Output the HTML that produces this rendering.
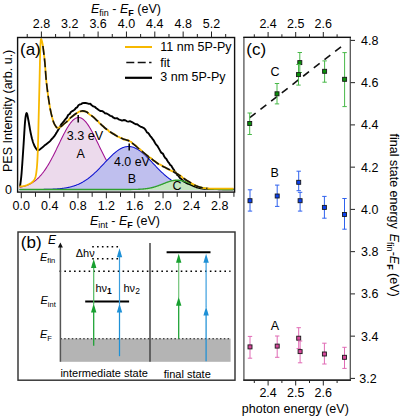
<!DOCTYPE html>
<html><head><meta charset="utf-8"><style>
html,body{margin:0;padding:0;background:#fff;width:401px;height:418px;overflow:hidden;}
svg{display:block;font-family:"Liberation Sans", sans-serif;}
</style></head><body>
<svg width="401" height="418" viewBox="0 0 401 418" font-family='"Liberation Sans", sans-serif' fill="#000"><defs><clipPath id="ca"><rect x="18" y="38" width="216" height="153.5"/></clipPath></defs>
<g clip-path="url(#ca)">
<path d="M19.50,187.34 L20.00,187.25 L20.50,187.15 L21.00,187.05 L21.50,186.94 L22.00,186.83 L22.50,186.71 L23.00,186.58 L23.50,186.45 L24.00,186.31 L24.50,186.17 L25.00,186.01 L25.50,185.85 L26.00,185.68 L26.50,185.50 L27.00,185.32 L27.50,185.12 L28.00,184.91 L28.50,184.70 L29.00,184.47 L29.50,184.23 L30.00,183.99 L30.50,183.73 L31.00,183.46 L31.50,183.18 L32.00,182.88 L32.50,182.57 L33.00,182.25 L33.50,181.92 L34.00,181.57 L34.50,181.21 L35.00,180.83 L35.50,180.44 L36.00,180.04 L36.50,179.61 L37.00,179.18 L37.50,178.72 L38.00,178.25 L38.50,177.77 L39.00,177.27 L39.50,176.75 L40.00,176.21 L40.50,175.65 L41.00,175.08 L41.50,174.49 L42.00,173.88 L42.50,173.26 L43.00,172.61 L43.50,171.95 L44.00,171.27 L44.50,170.58 L45.00,169.86 L45.50,169.13 L46.00,168.37 L46.50,167.61 L47.00,166.82 L47.50,166.02 L48.00,165.19 L48.50,164.36 L49.00,163.50 L49.50,162.64 L50.00,161.75 L50.50,160.85 L51.00,159.94 L51.50,159.01 L52.00,158.07 L52.50,157.12 L53.00,156.15 L53.50,155.17 L54.00,154.19 L54.50,153.19 L55.00,152.19 L55.50,151.17 L56.00,150.15 L56.50,149.13 L57.00,148.10 L57.50,147.06 L58.00,146.03 L58.50,144.99 L59.00,143.95 L59.50,142.91 L60.00,141.88 L60.50,140.85 L61.00,139.82 L61.50,138.80 L62.00,137.78 L62.50,136.78 L63.00,135.78 L63.50,134.80 L64.00,133.83 L64.50,132.87 L65.00,131.93 L65.50,131.01 L66.00,130.11 L66.50,129.22 L67.00,128.36 L67.50,127.52 L68.00,126.71 L68.50,125.92 L69.00,125.16 L69.50,124.43 L70.00,123.73 L70.50,123.06 L71.00,122.42 L71.50,121.82 L72.00,121.25 L72.50,120.72 L73.00,120.22 L73.50,119.77 L74.00,119.35 L74.50,118.97 L75.00,118.64 L75.50,118.35 L76.00,118.10 L76.50,117.89 L77.00,117.73 L77.50,117.61 L78.00,117.53 L78.50,117.50 L79.00,117.51 L79.50,117.57 L80.00,117.67 L80.50,117.82 L81.00,118.01 L81.50,118.24 L82.00,118.52 L82.50,118.84 L83.00,119.20 L83.50,119.60 L84.00,120.04 L84.50,120.51 L85.00,121.03 L85.50,121.58 L86.00,122.17 L86.50,122.80 L87.00,123.45 L87.50,124.14 L88.00,124.86 L88.50,125.61 L89.00,126.39 L89.50,127.19 L90.00,128.02 L90.50,128.88 L91.00,129.75 L91.50,130.65 L92.00,131.56 L92.50,132.50 L93.00,133.44 L93.50,134.41 L94.00,135.39 L94.50,136.38 L95.00,137.38 L95.50,138.39 L96.00,139.41 L96.50,140.43 L97.00,141.46 L97.50,142.50 L98.00,143.54 L98.50,144.57 L99.00,145.61 L99.50,146.65 L100.00,147.68 L100.50,148.72 L101.00,149.74 L101.50,150.77 L102.00,151.78 L102.50,152.79 L103.00,153.79 L103.50,154.78 L104.00,155.76 L104.50,156.73 L105.00,157.69 L105.50,158.64 L106.00,159.57 L106.50,160.49 L107.00,161.39 L107.50,162.28 L108.00,163.16 L108.50,164.02 L109.00,164.86 L109.50,165.69 L110.00,166.50 L110.50,167.29 L111.00,168.07 L111.50,168.83 L112.00,169.57 L112.50,170.29 L113.00,171.00 L113.50,171.68 L114.00,172.35 L114.50,173.00 L115.00,173.64 L115.50,174.25 L116.00,174.85 L116.50,175.43 L117.00,175.99 L117.50,176.53 L118.00,177.06 L118.50,177.57 L119.00,178.06 L119.50,178.54 L120.00,179.00 L120.50,179.44 L121.00,179.87 L121.50,180.28 L122.00,180.68 L122.50,181.06 L123.00,181.43 L123.50,181.78 L124.00,182.12 L124.50,182.45 L125.00,182.76 L125.50,183.06 L126.00,183.35 L126.50,183.62 L127.00,183.88 L127.50,184.14 L128.00,184.38 L128.50,184.61 L129.00,184.83 L129.50,185.04 L130.00,185.24 L130.50,185.43 L131.00,185.61 L131.50,185.78 L132.00,185.95 L132.50,186.11 L133.00,186.26 L133.50,186.40 L134.00,186.53 L134.50,186.66 L135.00,186.78 L135.50,186.90 L136.00,187.01 L136.50,187.11 L137.00,187.21 L137.50,187.30 L138.00,187.39 L138.50,187.48 L139.00,187.56 L139.50,187.63 L140.00,187.70 L140.50,187.77 L141.00,187.83 L141.50,187.90 L142.00,187.95 L142.50,188.01 L143.00,188.06 L143.50,188.11 L144.00,188.15 L144.50,188.20 L145.00,188.24 L145.50,188.28 L146.00,188.31 L146.50,188.35 L147.00,188.38 L147.50,188.41 L148.00,188.44 L148.50,188.47 L149.00,188.50 L149.50,188.52 L150.00,188.54 L150.50,188.57 L151.00,188.59 L151.50,188.61 L152.00,188.63 L152.50,188.65 L153.00,188.67 L153.50,188.68 L154.00,188.70 L154.50,188.71 L155.00,188.73 L155.50,188.74 L156.00,188.76 L156.50,188.77 L157.00,188.78 L157.50,188.79 L158.00,188.80 L158.50,188.82 L159.00,188.83 L159.50,188.84 L160.00,188.85 L160.50,188.86 L161.00,188.86 L161.50,188.87 L162.00,188.88 L162.50,188.89 L163.00,188.90 L163.50,188.91 L164.00,188.91 L164.50,188.92 L165.00,188.93 L165.50,188.93 L166.00,188.94 L166.50,188.95 L167.00,188.95 L167.50,188.96 L168.00,188.97 L168.50,188.97 L169.00,188.98 L169.50,188.98 L170.00,188.99 L170.50,189.00 L171.00,189.00 L171.50,189.01 L172.00,189.01 L172.50,189.02 L173.00,189.02 L173.50,189.03 L174.00,189.03 L174.50,189.04 L175.00,189.04 L175.50,189.04 L176.00,189.05 L176.50,189.05 L177.00,189.06 L177.50,189.06 L178.00,189.07 L178.50,189.07 L179.00,189.07 L179.50,189.08 L180.00,189.08 L180.50,189.09 L181.00,189.09 L181.50,189.09 L182.00,189.10 L182.50,189.10 L183.00,189.11 L183.50,189.11 L184.00,189.11 L184.50,189.12 L185.00,189.12 L185.50,189.12 L186.00,189.13 L186.50,189.13 L187.00,189.13 L187.50,189.14 L188.00,189.14 L188.50,189.14 L189.00,189.15 L189.50,189.15 L190.00,189.15 L190.50,189.15 L191.00,189.16 L191.50,189.16 L192.00,189.16 L192.50,189.17 L193.00,189.17 L193.50,189.17 L194.00,189.17 L194.50,189.18 L195.00,189.18 L195.50,189.18 L196.00,189.18 L196.50,189.19 L197.00,189.19 L197.50,189.19 L198.00,189.19 L198.50,189.20 L199.00,189.20 L199.50,189.20 L200.00,189.20 L200.50,189.21 L201.00,189.21 L201.50,189.21 L202.00,189.21 L202.50,189.22 L203.00,189.22 L203.50,189.22 L204.00,189.22 L204.50,189.22 L205.00,189.23 L205.50,189.23 L206.00,189.23 L206.50,189.23 L207.00,189.23 L207.50,189.24 L208.00,189.24 L208.50,189.24 L209.00,189.24 L209.50,189.24 L210.00,189.25 L210.50,189.25 L211.00,189.25 L211.50,189.25 L212.00,189.25 L212.50,189.26 L213.00,189.26 L213.50,189.26 L214.00,189.26 L214.50,189.26 L215.00,189.26 L215.50,189.27 L216.00,189.27 L216.50,189.27 L217.00,189.27 L217.50,189.27 L218.00,189.27 L218.50,189.28 L219.00,189.28 L219.50,189.28 L220.00,189.28 L220.50,189.28 L221.00,189.28 L221.50,189.28 L222.00,189.29 L222.50,189.29 L223.00,189.29 L223.50,189.29 L224.00,189.29 L224.50,189.29 L225.00,189.29 L225.50,189.30 L226.00,189.30 L226.50,189.30 L227.00,189.30 L227.50,189.30 L228.00,189.30 L228.50,189.30 L229.00,189.30 L229.50,189.31 L230.00,189.31 L230.50,189.31 L231.00,189.31 L231.50,189.31 L232.00,189.31 L232.50,189.31 L233.00,189.31 L233.50,189.32 L233.50,190.80 L19.50,190.80 Z" fill="#ecdaec" stroke="none"/>
<path d="M19.50,187.34 L20.00,187.25 L20.50,187.15 L21.00,187.05 L21.50,186.94 L22.00,186.83 L22.50,186.71 L23.00,186.58 L23.50,186.45 L24.00,186.31 L24.50,186.17 L25.00,186.01 L25.50,185.85 L26.00,185.68 L26.50,185.50 L27.00,185.32 L27.50,185.12 L28.00,184.91 L28.50,184.70 L29.00,184.47 L29.50,184.23 L30.00,183.99 L30.50,183.73 L31.00,183.46 L31.50,183.18 L32.00,182.88 L32.50,182.57 L33.00,182.25 L33.50,181.92 L34.00,181.57 L34.50,181.21 L35.00,180.83 L35.50,180.44 L36.00,180.04 L36.50,179.61 L37.00,179.18 L37.50,178.72 L38.00,178.25 L38.50,177.77 L39.00,177.27 L39.50,176.75 L40.00,176.21 L40.50,175.65 L41.00,175.08 L41.50,174.49 L42.00,173.88 L42.50,173.26 L43.00,172.61 L43.50,171.95 L44.00,171.27 L44.50,170.58 L45.00,169.86 L45.50,169.13 L46.00,168.37 L46.50,167.61 L47.00,166.82 L47.50,166.02 L48.00,165.19 L48.50,164.36 L49.00,163.50 L49.50,162.64 L50.00,161.75 L50.50,160.85 L51.00,159.94 L51.50,159.01 L52.00,158.07 L52.50,157.12 L53.00,156.15 L53.50,155.17 L54.00,154.19 L54.50,153.19 L55.00,152.19 L55.50,151.17 L56.00,150.15 L56.50,149.13 L57.00,148.10 L57.50,147.06 L58.00,146.03 L58.50,144.99 L59.00,143.95 L59.50,142.91 L60.00,141.88 L60.50,140.85 L61.00,139.82 L61.50,138.80 L62.00,137.78 L62.50,136.78 L63.00,135.78 L63.50,134.80 L64.00,133.83 L64.50,132.87 L65.00,131.93 L65.50,131.01 L66.00,130.11 L66.50,129.22 L67.00,128.36 L67.50,127.52 L68.00,126.71 L68.50,125.92 L69.00,125.16 L69.50,124.43 L70.00,123.73 L70.50,123.06 L71.00,122.42 L71.50,121.82 L72.00,121.25 L72.50,120.72 L73.00,120.22 L73.50,119.77 L74.00,119.35 L74.50,118.97 L75.00,118.64 L75.50,118.35 L76.00,118.10 L76.50,117.89 L77.00,117.73 L77.50,117.61 L78.00,117.53 L78.50,117.50 L79.00,117.51 L79.50,117.57 L80.00,117.67 L80.50,117.82 L81.00,118.01 L81.50,118.24 L82.00,118.52 L82.50,118.84 L83.00,119.20 L83.50,119.60 L84.00,120.04 L84.50,120.51 L85.00,121.03 L85.50,121.58 L86.00,122.17 L86.50,122.80 L87.00,123.45 L87.50,124.14 L88.00,124.86 L88.50,125.61 L89.00,126.39 L89.50,127.19 L90.00,128.02 L90.50,128.88 L91.00,129.75 L91.50,130.65 L92.00,131.56 L92.50,132.50 L93.00,133.44 L93.50,134.41 L94.00,135.39 L94.50,136.38 L95.00,137.38 L95.50,138.39 L96.00,139.41 L96.50,140.43 L97.00,141.46 L97.50,142.50 L98.00,143.54 L98.50,144.57 L99.00,145.61 L99.50,146.65 L100.00,147.68 L100.50,148.72 L101.00,149.74 L101.50,150.77 L102.00,151.78 L102.50,152.79 L103.00,153.79 L103.50,154.78 L104.00,155.76 L104.50,156.73 L105.00,157.69 L105.50,158.64 L106.00,159.57 L106.50,160.49 L107.00,161.39 L107.50,162.28 L108.00,163.16 L108.50,164.02 L109.00,164.86 L109.50,165.69 L110.00,166.50 L110.50,167.29 L111.00,168.07 L111.50,168.83 L112.00,169.57 L112.50,170.29 L113.00,171.00 L113.50,171.68 L114.00,172.35 L114.50,173.00 L115.00,173.64 L115.50,174.25 L116.00,174.85 L116.50,175.43 L117.00,175.99 L117.50,176.53 L118.00,177.06 L118.50,177.57 L119.00,178.06 L119.50,178.54 L120.00,179.00 L120.50,179.44 L121.00,179.87 L121.50,180.28 L122.00,180.68 L122.50,181.06 L123.00,181.43 L123.50,181.78 L124.00,182.12 L124.50,182.45 L125.00,182.76 L125.50,183.06 L126.00,183.35 L126.50,183.62 L127.00,183.88 L127.50,184.14 L128.00,184.38 L128.50,184.61 L129.00,184.83 L129.50,185.04 L130.00,185.24 L130.50,185.43 L131.00,185.61 L131.50,185.78 L132.00,185.95 L132.50,186.11 L133.00,186.26 L133.50,186.40 L134.00,186.53 L134.50,186.66 L135.00,186.78 L135.50,186.90 L136.00,187.01 L136.50,187.11 L137.00,187.21 L137.50,187.30 L138.00,187.39 L138.50,187.48 L139.00,187.56 L139.50,187.63 L140.00,187.70 L140.50,187.77 L141.00,187.83 L141.50,187.90 L142.00,187.95 L142.50,188.01 L143.00,188.06 L143.50,188.11 L144.00,188.15 L144.50,188.20 L145.00,188.24 L145.50,188.28 L146.00,188.31 L146.50,188.35 L147.00,188.38 L147.50,188.41 L148.00,188.44 L148.50,188.47 L149.00,188.50 L149.50,188.52 L150.00,188.54 L150.50,188.57 L151.00,188.59 L151.50,188.61 L152.00,188.63 L152.50,188.65 L153.00,188.67 L153.50,188.68 L154.00,188.70 L154.50,188.71 L155.00,188.73 L155.50,188.74 L156.00,188.76 L156.50,188.77 L157.00,188.78 L157.50,188.79 L158.00,188.80 L158.50,188.82 L159.00,188.83 L159.50,188.84 L160.00,188.85 L160.50,188.86 L161.00,188.86 L161.50,188.87 L162.00,188.88 L162.50,188.89 L163.00,188.90 L163.50,188.91 L164.00,188.91 L164.50,188.92 L165.00,188.93 L165.50,188.93 L166.00,188.94 L166.50,188.95 L167.00,188.95 L167.50,188.96 L168.00,188.97 L168.50,188.97 L169.00,188.98 L169.50,188.98 L170.00,188.99 L170.50,189.00 L171.00,189.00 L171.50,189.01 L172.00,189.01 L172.50,189.02 L173.00,189.02 L173.50,189.03 L174.00,189.03 L174.50,189.04 L175.00,189.04 L175.50,189.04 L176.00,189.05 L176.50,189.05 L177.00,189.06 L177.50,189.06 L178.00,189.07 L178.50,189.07 L179.00,189.07 L179.50,189.08 L180.00,189.08 L180.50,189.09 L181.00,189.09 L181.50,189.09 L182.00,189.10 L182.50,189.10 L183.00,189.11 L183.50,189.11 L184.00,189.11 L184.50,189.12 L185.00,189.12 L185.50,189.12 L186.00,189.13 L186.50,189.13 L187.00,189.13 L187.50,189.14 L188.00,189.14 L188.50,189.14 L189.00,189.15 L189.50,189.15 L190.00,189.15 L190.50,189.15 L191.00,189.16 L191.50,189.16 L192.00,189.16 L192.50,189.17 L193.00,189.17 L193.50,189.17 L194.00,189.17 L194.50,189.18 L195.00,189.18 L195.50,189.18 L196.00,189.18 L196.50,189.19 L197.00,189.19 L197.50,189.19 L198.00,189.19 L198.50,189.20 L199.00,189.20 L199.50,189.20 L200.00,189.20 L200.50,189.21 L201.00,189.21 L201.50,189.21 L202.00,189.21 L202.50,189.22 L203.00,189.22 L203.50,189.22 L204.00,189.22 L204.50,189.22 L205.00,189.23 L205.50,189.23 L206.00,189.23 L206.50,189.23 L207.00,189.23 L207.50,189.24 L208.00,189.24 L208.50,189.24 L209.00,189.24 L209.50,189.24 L210.00,189.25 L210.50,189.25 L211.00,189.25 L211.50,189.25 L212.00,189.25 L212.50,189.26 L213.00,189.26 L213.50,189.26 L214.00,189.26 L214.50,189.26 L215.00,189.26 L215.50,189.27 L216.00,189.27 L216.50,189.27 L217.00,189.27 L217.50,189.27 L218.00,189.27 L218.50,189.28 L219.00,189.28 L219.50,189.28 L220.00,189.28 L220.50,189.28 L221.00,189.28 L221.50,189.28 L222.00,189.29 L222.50,189.29 L223.00,189.29 L223.50,189.29 L224.00,189.29 L224.50,189.29 L225.00,189.29 L225.50,189.30 L226.00,189.30 L226.50,189.30 L227.00,189.30 L227.50,189.30 L228.00,189.30 L228.50,189.30 L229.00,189.30 L229.50,189.31 L230.00,189.31 L230.50,189.31 L231.00,189.31 L231.50,189.31 L232.00,189.31 L232.50,189.31 L233.00,189.31 L233.50,189.32" fill="none" stroke="#a01090" stroke-width="1.05"/>
<path d="M19.50,189.50 L20.00,189.50 L20.50,189.50 L21.00,189.50 L21.50,189.50 L22.00,189.50 L22.50,189.50 L23.00,189.50 L23.50,189.50 L24.00,189.50 L24.50,189.49 L25.00,189.49 L25.50,189.49 L26.00,189.49 L26.50,189.49 L27.00,189.49 L27.50,189.49 L28.00,189.49 L28.50,189.49 L29.00,189.49 L29.50,189.49 L30.00,189.49 L30.50,189.49 L31.00,189.48 L31.50,189.48 L32.00,189.48 L32.50,189.48 L33.00,189.48 L33.50,189.48 L34.00,189.48 L34.50,189.47 L35.00,189.47 L35.50,189.47 L36.00,189.47 L36.50,189.46 L37.00,189.46 L37.50,189.46 L38.00,189.45 L38.50,189.45 L39.00,189.45 L39.50,189.44 L40.00,189.44 L40.50,189.43 L41.00,189.43 L41.50,189.42 L42.00,189.42 L42.50,189.41 L43.00,189.40 L43.50,189.40 L44.00,189.39 L44.50,189.38 L45.00,189.37 L45.50,189.36 L46.00,189.35 L46.50,189.34 L47.00,189.33 L47.50,189.32 L48.00,189.31 L48.50,189.29 L49.00,189.28 L49.50,189.27 L50.00,189.25 L50.50,189.23 L51.00,189.21 L51.50,189.20 L52.00,189.18 L52.50,189.15 L53.00,189.13 L53.50,189.11 L54.00,189.08 L54.50,189.06 L55.00,189.03 L55.50,189.00 L56.00,188.97 L56.50,188.93 L57.00,188.90 L57.50,188.86 L58.00,188.82 L58.50,188.78 L59.00,188.74 L59.50,188.69 L60.00,188.65 L60.50,188.60 L61.00,188.54 L61.50,188.49 L62.00,188.43 L62.50,188.37 L63.00,188.31 L63.50,188.24 L64.00,188.17 L64.50,188.10 L65.00,188.02 L65.50,187.94 L66.00,187.86 L66.50,187.77 L67.00,187.68 L67.50,187.58 L68.00,187.48 L68.50,187.38 L69.00,187.27 L69.50,187.16 L70.00,187.04 L70.50,186.92 L71.00,186.79 L71.50,186.66 L72.00,186.52 L72.50,186.37 L73.00,186.23 L73.50,186.07 L74.00,185.91 L74.50,185.74 L75.00,185.57 L75.50,185.39 L76.00,185.21 L76.50,185.02 L77.00,184.82 L77.50,184.62 L78.00,184.40 L78.50,184.19 L79.00,183.96 L79.50,183.73 L80.00,183.49 L80.50,183.24 L81.00,182.99 L81.50,182.72 L82.00,182.45 L82.50,182.18 L83.00,181.89 L83.50,181.60 L84.00,181.30 L84.50,180.99 L85.00,180.67 L85.50,180.35 L86.00,180.02 L86.50,179.68 L87.00,179.33 L87.50,178.97 L88.00,178.61 L88.50,178.23 L89.00,177.85 L89.50,177.47 L90.00,177.07 L90.50,176.67 L91.00,176.26 L91.50,175.84 L92.00,175.41 L92.50,174.98 L93.00,174.54 L93.50,174.09 L94.00,173.64 L94.50,173.18 L95.00,172.71 L95.50,172.24 L96.00,171.76 L96.50,171.27 L97.00,170.78 L97.50,170.29 L98.00,169.79 L98.50,169.28 L99.00,168.77 L99.50,168.26 L100.00,167.74 L100.50,167.22 L101.00,166.70 L101.50,166.18 L102.00,165.65 L102.50,165.12 L103.00,164.59 L103.50,164.06 L104.00,163.53 L104.50,162.99 L105.00,162.46 L105.50,161.93 L106.00,161.40 L106.50,160.87 L107.00,160.35 L107.50,159.82 L108.00,159.30 L108.50,158.79 L109.00,158.28 L109.50,157.77 L110.00,157.27 L110.50,156.77 L111.00,156.28 L111.50,155.80 L112.00,155.32 L112.50,154.85 L113.00,154.39 L113.50,153.94 L114.00,153.50 L114.50,153.06 L115.00,152.64 L115.50,152.23 L116.00,151.83 L116.50,151.44 L117.00,151.06 L117.50,150.69 L118.00,150.34 L118.50,150.00 L119.00,149.68 L119.50,149.37 L120.00,149.07 L120.50,148.79 L121.00,148.52 L121.50,148.27 L122.00,148.03 L122.50,147.81 L123.00,147.61 L123.50,147.42 L124.00,147.25 L124.50,147.10 L125.00,146.96 L125.50,146.84 L126.00,146.74 L126.50,146.66 L127.00,146.59 L127.50,146.54 L128.00,146.51 L128.50,146.50 L129.00,146.51 L129.50,146.53 L130.00,146.57 L130.50,146.63 L131.00,146.71 L131.50,146.80 L132.00,146.91 L132.50,147.04 L133.00,147.19 L133.50,147.35 L134.00,147.53 L134.50,147.73 L135.00,147.94 L135.50,148.17 L136.00,148.42 L136.50,148.68 L137.00,148.95 L137.50,149.25 L138.00,149.55 L138.50,149.87 L139.00,150.20 L139.50,150.55 L140.00,150.91 L140.50,151.28 L141.00,151.67 L141.50,152.07 L142.00,152.47 L142.50,152.89 L143.00,153.32 L143.50,153.76 L144.00,154.21 L144.50,154.67 L145.00,155.13 L145.50,155.60 L146.00,156.08 L146.50,156.57 L147.00,157.07 L147.50,157.57 L148.00,158.07 L148.50,158.58 L149.00,159.10 L149.50,159.62 L150.00,160.14 L150.50,160.66 L151.00,161.19 L151.50,161.72 L152.00,162.25 L152.50,162.78 L153.00,163.31 L153.50,163.84 L154.00,164.38 L154.50,164.91 L155.00,165.44 L155.50,165.97 L156.00,166.49 L156.50,167.02 L157.00,167.54 L157.50,168.06 L158.00,168.57 L158.50,169.08 L159.00,169.59 L159.50,170.09 L160.00,170.59 L160.50,171.08 L161.00,171.56 L161.50,172.05 L162.00,172.52 L162.50,172.99 L163.00,173.45 L163.50,173.91 L164.00,174.36 L164.50,174.80 L165.00,175.24 L165.50,175.67 L166.00,176.09 L166.50,176.50 L167.00,176.91 L167.50,177.31 L168.00,177.70 L168.50,178.08 L169.00,178.46 L169.50,178.83 L170.00,179.19 L170.50,179.54 L171.00,179.88 L171.50,180.22 L172.00,180.54 L172.50,180.86 L173.00,181.18 L173.50,181.48 L174.00,181.78 L174.50,182.06 L175.00,182.34 L175.50,182.62 L176.00,182.88 L176.50,183.14 L177.00,183.39 L177.50,183.63 L178.00,183.87 L178.50,184.10 L179.00,184.32 L179.50,184.53 L180.00,184.74 L180.50,184.94 L181.00,185.13 L181.50,185.32 L182.00,185.50 L182.50,185.68 L183.00,185.85 L183.50,186.01 L184.00,186.16 L184.50,186.32 L185.00,186.46 L185.50,186.60 L186.00,186.74 L186.50,186.87 L187.00,186.99 L187.50,187.11 L188.00,187.22 L188.50,187.33 L189.00,187.44 L189.50,187.54 L190.00,187.64 L190.50,187.73 L191.00,187.82 L191.50,187.91 L192.00,187.99 L192.50,188.07 L193.00,188.14 L193.50,188.21 L194.00,188.28 L194.50,188.35 L195.00,188.41 L195.50,188.47 L196.00,188.52 L196.50,188.58 L197.00,188.63 L197.50,188.68 L198.00,188.72 L198.50,188.77 L199.00,188.81 L199.50,188.85 L200.00,188.88 L200.50,188.92 L201.00,188.95 L201.50,188.99 L202.00,189.02 L202.50,189.05 L203.00,189.07 L203.50,189.10 L204.00,189.12 L204.50,189.15 L205.00,189.17 L205.50,189.19 L206.00,189.21 L206.50,189.23 L207.00,189.24 L207.50,189.26 L208.00,189.27 L208.50,189.29 L209.00,189.30 L209.50,189.32 L210.00,189.33 L210.50,189.34 L211.00,189.35 L211.50,189.36 L212.00,189.37 L212.50,189.38 L213.00,189.39 L213.50,189.39 L214.00,189.40 L214.50,189.41 L215.00,189.41 L215.50,189.42 L216.00,189.43 L216.50,189.43 L217.00,189.44 L217.50,189.44 L218.00,189.44 L218.50,189.45 L219.00,189.45 L219.50,189.46 L220.00,189.46 L220.50,189.46 L221.00,189.46 L221.50,189.47 L222.00,189.47 L222.50,189.47 L223.00,189.47 L223.50,189.48 L224.00,189.48 L224.50,189.48 L225.00,189.48 L225.50,189.48 L226.00,189.48 L226.50,189.49 L227.00,189.49 L227.50,189.49 L228.00,189.49 L228.50,189.49 L229.00,189.49 L229.50,189.49 L230.00,189.49 L230.50,189.49 L231.00,189.49 L231.50,189.49 L232.00,189.49 L232.50,189.49 L233.00,189.50 L233.50,189.50 L233.50,190.30 L19.50,190.30 Z" fill="#bfbfee" stroke="none"/>
<path d="M19.50,189.50 L20.00,189.50 L20.50,189.50 L21.00,189.50 L21.50,189.50 L22.00,189.50 L22.50,189.50 L23.00,189.50 L23.50,189.50 L24.00,189.50 L24.50,189.49 L25.00,189.49 L25.50,189.49 L26.00,189.49 L26.50,189.49 L27.00,189.49 L27.50,189.49 L28.00,189.49 L28.50,189.49 L29.00,189.49 L29.50,189.49 L30.00,189.49 L30.50,189.49 L31.00,189.48 L31.50,189.48 L32.00,189.48 L32.50,189.48 L33.00,189.48 L33.50,189.48 L34.00,189.48 L34.50,189.47 L35.00,189.47 L35.50,189.47 L36.00,189.47 L36.50,189.46 L37.00,189.46 L37.50,189.46 L38.00,189.45 L38.50,189.45 L39.00,189.45 L39.50,189.44 L40.00,189.44 L40.50,189.43 L41.00,189.43 L41.50,189.42 L42.00,189.42 L42.50,189.41 L43.00,189.40 L43.50,189.40 L44.00,189.39 L44.50,189.38 L45.00,189.37 L45.50,189.36 L46.00,189.35 L46.50,189.34 L47.00,189.33 L47.50,189.32 L48.00,189.31 L48.50,189.29 L49.00,189.28 L49.50,189.27 L50.00,189.25 L50.50,189.23 L51.00,189.21 L51.50,189.20 L52.00,189.18 L52.50,189.15 L53.00,189.13 L53.50,189.11 L54.00,189.08 L54.50,189.06 L55.00,189.03 L55.50,189.00 L56.00,188.97 L56.50,188.93 L57.00,188.90 L57.50,188.86 L58.00,188.82 L58.50,188.78 L59.00,188.74 L59.50,188.69 L60.00,188.65 L60.50,188.60 L61.00,188.54 L61.50,188.49 L62.00,188.43 L62.50,188.37 L63.00,188.31 L63.50,188.24 L64.00,188.17 L64.50,188.10 L65.00,188.02 L65.50,187.94 L66.00,187.86 L66.50,187.77 L67.00,187.68 L67.50,187.58 L68.00,187.48 L68.50,187.38 L69.00,187.27 L69.50,187.16 L70.00,187.04 L70.50,186.92 L71.00,186.79 L71.50,186.66 L72.00,186.52 L72.50,186.37 L73.00,186.23 L73.50,186.07 L74.00,185.91 L74.50,185.74 L75.00,185.57 L75.50,185.39 L76.00,185.21 L76.50,185.02 L77.00,184.82 L77.50,184.62 L78.00,184.40 L78.50,184.19 L79.00,183.96 L79.50,183.73 L80.00,183.49 L80.50,183.24 L81.00,182.99 L81.50,182.72 L82.00,182.45 L82.50,182.18 L83.00,181.89 L83.50,181.60 L84.00,181.30 L84.50,180.99 L85.00,180.67 L85.50,180.35 L86.00,180.02 L86.50,179.68 L87.00,179.33 L87.50,178.97 L88.00,178.61 L88.50,178.23 L89.00,177.85 L89.50,177.47 L90.00,177.07 L90.50,176.67 L91.00,176.26 L91.50,175.84 L92.00,175.41 L92.50,174.98 L93.00,174.54 L93.50,174.09 L94.00,173.64 L94.50,173.18 L95.00,172.71 L95.50,172.24 L96.00,171.76 L96.50,171.27 L97.00,170.78 L97.50,170.29 L98.00,169.79 L98.50,169.28 L99.00,168.77 L99.50,168.26 L100.00,167.74 L100.50,167.22 L101.00,166.70 L101.50,166.18 L102.00,165.65 L102.50,165.12 L103.00,164.59 L103.50,164.06 L104.00,163.53 L104.50,162.99 L105.00,162.46 L105.50,161.93 L106.00,161.40 L106.50,160.87 L107.00,160.35 L107.50,159.82 L108.00,159.30 L108.50,158.79 L109.00,158.28 L109.50,157.77 L110.00,157.27 L110.50,156.77 L111.00,156.28 L111.50,155.80 L112.00,155.32 L112.50,154.85 L113.00,154.39 L113.50,153.94 L114.00,153.50 L114.50,153.06 L115.00,152.64 L115.50,152.23 L116.00,151.83 L116.50,151.44 L117.00,151.06 L117.50,150.69 L118.00,150.34 L118.50,150.00 L119.00,149.68 L119.50,149.37 L120.00,149.07 L120.50,148.79 L121.00,148.52 L121.50,148.27 L122.00,148.03 L122.50,147.81 L123.00,147.61 L123.50,147.42 L124.00,147.25 L124.50,147.10 L125.00,146.96 L125.50,146.84 L126.00,146.74 L126.50,146.66 L127.00,146.59 L127.50,146.54 L128.00,146.51 L128.50,146.50 L129.00,146.51 L129.50,146.53 L130.00,146.57 L130.50,146.63 L131.00,146.71 L131.50,146.80 L132.00,146.91 L132.50,147.04 L133.00,147.19 L133.50,147.35 L134.00,147.53 L134.50,147.73 L135.00,147.94 L135.50,148.17 L136.00,148.42 L136.50,148.68 L137.00,148.95 L137.50,149.25 L138.00,149.55 L138.50,149.87 L139.00,150.20 L139.50,150.55 L140.00,150.91 L140.50,151.28 L141.00,151.67 L141.50,152.07 L142.00,152.47 L142.50,152.89 L143.00,153.32 L143.50,153.76 L144.00,154.21 L144.50,154.67 L145.00,155.13 L145.50,155.60 L146.00,156.08 L146.50,156.57 L147.00,157.07 L147.50,157.57 L148.00,158.07 L148.50,158.58 L149.00,159.10 L149.50,159.62 L150.00,160.14 L150.50,160.66 L151.00,161.19 L151.50,161.72 L152.00,162.25 L152.50,162.78 L153.00,163.31 L153.50,163.84 L154.00,164.38 L154.50,164.91 L155.00,165.44 L155.50,165.97 L156.00,166.49 L156.50,167.02 L157.00,167.54 L157.50,168.06 L158.00,168.57 L158.50,169.08 L159.00,169.59 L159.50,170.09 L160.00,170.59 L160.50,171.08 L161.00,171.56 L161.50,172.05 L162.00,172.52 L162.50,172.99 L163.00,173.45 L163.50,173.91 L164.00,174.36 L164.50,174.80 L165.00,175.24 L165.50,175.67 L166.00,176.09 L166.50,176.50 L167.00,176.91 L167.50,177.31 L168.00,177.70 L168.50,178.08 L169.00,178.46 L169.50,178.83 L170.00,179.19 L170.50,179.54 L171.00,179.88 L171.50,180.22 L172.00,180.54 L172.50,180.86 L173.00,181.18 L173.50,181.48 L174.00,181.78 L174.50,182.06 L175.00,182.34 L175.50,182.62 L176.00,182.88 L176.50,183.14 L177.00,183.39 L177.50,183.63 L178.00,183.87 L178.50,184.10 L179.00,184.32 L179.50,184.53 L180.00,184.74 L180.50,184.94 L181.00,185.13 L181.50,185.32 L182.00,185.50 L182.50,185.68 L183.00,185.85 L183.50,186.01 L184.00,186.16 L184.50,186.32 L185.00,186.46 L185.50,186.60 L186.00,186.74 L186.50,186.87 L187.00,186.99 L187.50,187.11 L188.00,187.22 L188.50,187.33 L189.00,187.44 L189.50,187.54 L190.00,187.64 L190.50,187.73 L191.00,187.82 L191.50,187.91 L192.00,187.99 L192.50,188.07 L193.00,188.14 L193.50,188.21 L194.00,188.28 L194.50,188.35 L195.00,188.41 L195.50,188.47 L196.00,188.52 L196.50,188.58 L197.00,188.63 L197.50,188.68 L198.00,188.72 L198.50,188.77 L199.00,188.81 L199.50,188.85 L200.00,188.88 L200.50,188.92 L201.00,188.95 L201.50,188.99 L202.00,189.02 L202.50,189.05 L203.00,189.07 L203.50,189.10 L204.00,189.12 L204.50,189.15 L205.00,189.17 L205.50,189.19 L206.00,189.21 L206.50,189.23 L207.00,189.24 L207.50,189.26 L208.00,189.27 L208.50,189.29 L209.00,189.30 L209.50,189.32 L210.00,189.33 L210.50,189.34 L211.00,189.35 L211.50,189.36 L212.00,189.37 L212.50,189.38 L213.00,189.39 L213.50,189.39 L214.00,189.40 L214.50,189.41 L215.00,189.41 L215.50,189.42 L216.00,189.43 L216.50,189.43 L217.00,189.44 L217.50,189.44 L218.00,189.44 L218.50,189.45 L219.00,189.45 L219.50,189.46 L220.00,189.46 L220.50,189.46 L221.00,189.46 L221.50,189.47 L222.00,189.47 L222.50,189.47 L223.00,189.47 L223.50,189.48 L224.00,189.48 L224.50,189.48 L225.00,189.48 L225.50,189.48 L226.00,189.48 L226.50,189.49 L227.00,189.49 L227.50,189.49 L228.00,189.49 L228.50,189.49 L229.00,189.49 L229.50,189.49 L230.00,189.49 L230.50,189.49 L231.00,189.49 L231.50,189.49 L232.00,189.49 L232.50,189.49 L233.00,189.50 L233.50,189.50" fill="none" stroke="#0c12d0" stroke-width="1.05"/>
<path d="M19.50,189.50 L20.00,189.50 L20.50,189.50 L21.00,189.50 L21.50,189.50 L22.00,189.50 L22.50,189.50 L23.00,189.50 L23.50,189.50 L24.00,189.50 L24.50,189.50 L25.00,189.50 L25.50,189.50 L26.00,189.50 L26.50,189.50 L27.00,189.50 L27.50,189.50 L28.00,189.50 L28.50,189.50 L29.00,189.50 L29.50,189.50 L30.00,189.50 L30.50,189.50 L31.00,189.50 L31.50,189.50 L32.00,189.50 L32.50,189.50 L33.00,189.50 L33.50,189.50 L34.00,189.50 L34.50,189.50 L35.00,189.50 L35.50,189.50 L36.00,189.50 L36.50,189.50 L37.00,189.50 L37.50,189.50 L38.00,189.50 L38.50,189.50 L39.00,189.50 L39.50,189.50 L40.00,189.50 L40.50,189.50 L41.00,189.50 L41.50,189.50 L42.00,189.50 L42.50,189.50 L43.00,189.50 L43.50,189.50 L44.00,189.50 L44.50,189.50 L45.00,189.50 L45.50,189.50 L46.00,189.50 L46.50,189.50 L47.00,189.50 L47.50,189.50 L48.00,189.50 L48.50,189.50 L49.00,189.50 L49.50,189.50 L50.00,189.50 L50.50,189.50 L51.00,189.50 L51.50,189.50 L52.00,189.50 L52.50,189.50 L53.00,189.50 L53.50,189.50 L54.00,189.50 L54.50,189.50 L55.00,189.50 L55.50,189.50 L56.00,189.50 L56.50,189.50 L57.00,189.50 L57.50,189.50 L58.00,189.50 L58.50,189.50 L59.00,189.50 L59.50,189.50 L60.00,189.50 L60.50,189.50 L61.00,189.50 L61.50,189.50 L62.00,189.50 L62.50,189.50 L63.00,189.50 L63.50,189.50 L64.00,189.50 L64.50,189.50 L65.00,189.50 L65.50,189.50 L66.00,189.50 L66.50,189.50 L67.00,189.50 L67.50,189.50 L68.00,189.50 L68.50,189.50 L69.00,189.50 L69.50,189.50 L70.00,189.50 L70.50,189.50 L71.00,189.50 L71.50,189.50 L72.00,189.50 L72.50,189.50 L73.00,189.50 L73.50,189.50 L74.00,189.50 L74.50,189.50 L75.00,189.50 L75.50,189.50 L76.00,189.50 L76.50,189.50 L77.00,189.50 L77.50,189.50 L78.00,189.50 L78.50,189.50 L79.00,189.50 L79.50,189.50 L80.00,189.50 L80.50,189.50 L81.00,189.50 L81.50,189.50 L82.00,189.50 L82.50,189.50 L83.00,189.50 L83.50,189.50 L84.00,189.50 L84.50,189.50 L85.00,189.50 L85.50,189.50 L86.00,189.50 L86.50,189.50 L87.00,189.50 L87.50,189.50 L88.00,189.50 L88.50,189.50 L89.00,189.50 L89.50,189.50 L90.00,189.50 L90.50,189.50 L91.00,189.50 L91.50,189.50 L92.00,189.50 L92.50,189.50 L93.00,189.50 L93.50,189.50 L94.00,189.50 L94.50,189.50 L95.00,189.50 L95.50,189.50 L96.00,189.50 L96.50,189.50 L97.00,189.50 L97.50,189.50 L98.00,189.50 L98.50,189.50 L99.00,189.50 L99.50,189.50 L100.00,189.50 L100.50,189.50 L101.00,189.50 L101.50,189.50 L102.00,189.50 L102.50,189.50 L103.00,189.50 L103.50,189.50 L104.00,189.50 L104.50,189.50 L105.00,189.50 L105.50,189.50 L106.00,189.50 L106.50,189.50 L107.00,189.50 L107.50,189.50 L108.00,189.50 L108.50,189.50 L109.00,189.50 L109.50,189.50 L110.00,189.50 L110.50,189.50 L111.00,189.50 L111.50,189.50 L112.00,189.50 L112.50,189.50 L113.00,189.50 L113.50,189.50 L114.00,189.50 L114.50,189.50 L115.00,189.50 L115.50,189.50 L116.00,189.50 L116.50,189.50 L117.00,189.50 L117.50,189.50 L118.00,189.50 L118.50,189.50 L119.00,189.50 L119.50,189.50 L120.00,189.50 L120.50,189.50 L121.00,189.50 L121.50,189.50 L122.00,189.50 L122.50,189.50 L123.00,189.49 L123.50,189.49 L124.00,189.49 L124.50,189.49 L125.00,189.49 L125.50,189.49 L126.00,189.49 L126.50,189.49 L127.00,189.48 L127.50,189.48 L128.00,189.48 L128.50,189.48 L129.00,189.47 L129.50,189.47 L130.00,189.47 L130.50,189.46 L131.00,189.46 L131.50,189.45 L132.00,189.45 L132.50,189.44 L133.00,189.43 L133.50,189.43 L134.00,189.42 L134.50,189.41 L135.00,189.40 L135.50,189.39 L136.00,189.37 L136.50,189.36 L137.00,189.34 L137.50,189.33 L138.00,189.31 L138.50,189.29 L139.00,189.27 L139.50,189.24 L140.00,189.22 L140.50,189.19 L141.00,189.16 L141.50,189.13 L142.00,189.09 L142.50,189.05 L143.00,189.01 L143.50,188.97 L144.00,188.92 L144.50,188.87 L145.00,188.82 L145.50,188.76 L146.00,188.70 L146.50,188.63 L147.00,188.56 L147.50,188.49 L148.00,188.41 L148.50,188.33 L149.00,188.24 L149.50,188.15 L150.00,188.05 L150.50,187.95 L151.00,187.84 L151.50,187.73 L152.00,187.61 L152.50,187.49 L153.00,187.36 L153.50,187.23 L154.00,187.09 L154.50,186.94 L155.00,186.79 L155.50,186.64 L156.00,186.48 L156.50,186.32 L157.00,186.15 L157.50,185.97 L158.00,185.80 L158.50,185.62 L159.00,185.43 L159.50,185.24 L160.00,185.05 L160.50,184.86 L161.00,184.66 L161.50,184.46 L162.00,184.26 L162.50,184.06 L163.00,183.86 L163.50,183.66 L164.00,183.46 L164.50,183.26 L165.00,183.06 L165.50,182.86 L166.00,182.67 L166.50,182.48 L167.00,182.29 L167.50,182.11 L168.00,181.94 L168.50,181.77 L169.00,181.60 L169.50,181.44 L170.00,181.29 L170.50,181.15 L171.00,181.02 L171.50,180.89 L172.00,180.77 L172.50,180.67 L173.00,180.57 L173.50,180.49 L174.00,180.41 L174.50,180.35 L175.00,180.29 L175.50,180.25 L176.00,180.22 L176.50,180.21 L177.00,180.20 L177.50,180.21 L178.00,180.22 L178.50,180.25 L179.00,180.29 L179.50,180.35 L180.00,180.41 L180.50,180.49 L181.00,180.57 L181.50,180.67 L182.00,180.77 L182.50,180.89 L183.00,181.02 L183.50,181.15 L184.00,181.29 L184.50,181.44 L185.00,181.60 L185.50,181.77 L186.00,181.94 L186.50,182.11 L187.00,182.29 L187.50,182.48 L188.00,182.67 L188.50,182.86 L189.00,183.06 L189.50,183.26 L190.00,183.46 L190.50,183.66 L191.00,183.86 L191.50,184.06 L192.00,184.26 L192.50,184.46 L193.00,184.66 L193.50,184.86 L194.00,185.05 L194.50,185.24 L195.00,185.43 L195.50,185.62 L196.00,185.80 L196.50,185.97 L197.00,186.15 L197.50,186.32 L198.00,186.48 L198.50,186.64 L199.00,186.79 L199.50,186.94 L200.00,187.09 L200.50,187.23 L201.00,187.36 L201.50,187.49 L202.00,187.61 L202.50,187.73 L203.00,187.84 L203.50,187.95 L204.00,188.05 L204.50,188.15 L205.00,188.24 L205.50,188.33 L206.00,188.41 L206.50,188.49 L207.00,188.56 L207.50,188.63 L208.00,188.70 L208.50,188.76 L209.00,188.82 L209.50,188.87 L210.00,188.92 L210.50,188.97 L211.00,189.01 L211.50,189.05 L212.00,189.09 L212.50,189.13 L213.00,189.16 L213.50,189.19 L214.00,189.22 L214.50,189.24 L215.00,189.27 L215.50,189.29 L216.00,189.31 L216.50,189.33 L217.00,189.34 L217.50,189.36 L218.00,189.37 L218.50,189.39 L219.00,189.40 L219.50,189.41 L220.00,189.42 L220.50,189.43 L221.00,189.43 L221.50,189.44 L222.00,189.45 L222.50,189.45 L223.00,189.46 L223.50,189.46 L224.00,189.47 L224.50,189.47 L225.00,189.47 L225.50,189.48 L226.00,189.48 L226.50,189.48 L227.00,189.48 L227.50,189.49 L228.00,189.49 L228.50,189.49 L229.00,189.49 L229.50,189.49 L230.00,189.49 L230.50,189.49 L231.00,189.49 L231.50,189.50 L232.00,189.50 L232.50,189.50 L233.00,189.50 L233.50,189.50 L233.50,190.30 L19.50,190.30 Z" fill="#c4e6c0" stroke="none"/>
<path d="M20.00,186.50 L20.13,185.52 L20.30,184.33 L20.51,182.89 L20.74,181.18 L20.99,179.17 L21.25,176.82 L21.50,174.10 L21.61,172.84 L21.71,171.47 L21.83,169.99 L21.94,168.43 L22.06,166.80 L22.19,165.10 L22.31,163.35 L22.43,161.56 L22.56,159.74 L22.68,157.91 L22.80,156.07 L22.93,154.25 L23.05,152.45 L23.16,150.68 L23.28,148.96 L23.39,147.29 L23.50,145.70 L23.62,143.92 L23.73,142.12 L23.85,140.30 L23.96,138.48 L24.07,136.67 L24.17,134.87 L24.28,133.11 L24.38,131.38 L24.49,129.70 L24.59,128.09 L24.69,126.54 L24.79,125.08 L24.89,123.71 L25.00,122.45 L25.10,121.30 L25.40,118.39 L25.70,116.17 L26.00,114.57 L26.30,113.57 L26.60,113.10 L27.09,113.77 L27.59,116.03 L28.20,119.20 L28.45,120.46 L28.71,121.92 L29.00,123.54 L29.29,125.26 L29.60,127.02 L29.90,128.79 L30.21,130.49 L30.51,132.08 L30.80,133.50 L31.22,135.41 L31.63,137.17 L32.04,138.80 L32.46,140.31 L32.87,141.70 L33.30,143.00 L34.19,145.27 L35.10,147.10 L36.00,148.50 L37.11,149.97 L38.60,150.20 L39.82,149.52 L41.28,148.37 L42.85,147.07 L44.40,145.60 L45.93,144.42 L47.49,143.23 L49.04,142.09 L50.50,140.59 L51.85,138.96 L53.11,137.68 L54.35,136.12 L55.60,134.31 L56.44,132.80 L57.26,131.53 L58.09,129.97 L58.93,128.71 L59.79,127.16 L60.70,125.33 L61.68,123.80 L62.73,122.73 L63.81,121.45 L64.88,119.83 L65.89,118.71 L66.80,117.73 L68.28,114.75 L69.53,114.20 L70.90,112.03 L72.11,111.22 L73.39,110.63 L74.71,109.57 L76.00,107.88 L77.22,107.31 L78.42,105.33 L79.65,104.51 L81.00,104.18 L82.47,103.13 L84.04,102.96 L85.68,103.01 L87.40,103.39 L88.80,103.86 L90.24,103.78 L91.73,105.28 L93.31,106.41 L95.00,106.97 L96.30,108.29 L97.68,109.14 L99.12,110.21 L100.59,111.16 L102.07,110.99 L103.55,111.91 L105.00,113.19 L106.70,113.46 L108.44,114.48 L110.19,115.81 L111.89,116.18 L113.51,117.68 L115.00,118.43 L116.94,118.16 L118.62,119.26 L120.25,119.96 L122.00,120.57 L123.57,120.05 L125.24,120.20 L126.92,121.32 L128.53,121.65 L130.00,121.14 L132.00,122.06 L133.74,123.11 L135.70,124.21 L137.14,124.11 L138.73,125.50 L140.37,126.55 L141.96,127.21 L143.40,127.80 L144.67,128.80 L145.82,130.37 L146.92,132.34 L147.99,132.83 L149.10,134.21 L150.24,136.09 L151.38,137.23 L152.51,138.88 L153.65,140.31 L154.80,142.53 L155.74,144.10 L156.66,145.14 L157.58,146.19 L158.53,147.86 L159.53,149.65 L160.60,151.63 L161.46,152.91 L162.37,153.26 L163.31,154.27 L164.28,156.57 L165.26,158.02 L166.25,158.81 L167.23,160.55 L168.20,162.04 L169.17,163.15 L170.16,164.97 L171.17,165.48 L172.17,167.32 L173.15,168.84 L174.11,170.09 L175.03,172.38 L175.90,172.54 L177.17,174.99 L178.32,175.72 L179.42,177.34 L180.49,178.55 L181.60,179.35 L182.91,180.84 L184.14,181.73 L185.53,182.35 L187.30,183.58 L188.57,183.77 L190.00,184.46 L191.56,185.24 L193.18,185.93 L194.81,186.51 L196.40,187.24 L197.90,187.64 L199.60,188.05 L200.98,188.37 L202.46,188.58 L204.46,188.74 L207.40,188.90 L208.62,188.95 L210.05,189.00 L211.64,189.05 L213.37,189.09 L215.21,189.13 L217.12,189.17 L219.07,189.20 L221.04,189.23 L222.99,189.26 L224.89,189.28 L226.71,189.31 L228.42,189.33 L229.98,189.35 L231.37,189.37 L232.56,189.38 L233.50,189.40" fill="none" stroke="#000" stroke-width="1.9" stroke-linejoin="round"/>
<path d="M19.50,189.50 L20.00,189.50 L20.50,189.50 L21.00,189.50 L21.50,189.50 L22.00,189.50 L22.50,189.50 L23.00,189.50 L23.50,189.50 L24.00,189.50 L24.50,189.50 L25.00,189.50 L25.50,189.50 L26.00,189.50 L26.50,189.50 L27.00,189.50 L27.50,189.50 L28.00,189.50 L28.50,189.50 L29.00,189.50 L29.50,189.50 L30.00,189.50 L30.50,189.50 L31.00,189.50 L31.50,189.50 L32.00,189.50 L32.50,189.50 L33.00,189.50 L33.50,189.50 L34.00,189.50 L34.50,189.50 L35.00,189.50 L35.50,189.50 L36.00,189.50 L36.50,189.50 L37.00,189.50 L37.50,189.50 L38.00,189.50 L38.50,189.50 L39.00,189.50 L39.50,189.50 L40.00,189.50 L40.50,189.50 L41.00,189.50 L41.50,189.50 L42.00,189.50 L42.50,189.50 L43.00,189.50 L43.50,189.50 L44.00,189.50 L44.50,189.50 L45.00,189.50 L45.50,189.50 L46.00,189.50 L46.50,189.50 L47.00,189.50 L47.50,189.50 L48.00,189.50 L48.50,189.50 L49.00,189.50 L49.50,189.50 L50.00,189.50 L50.50,189.50 L51.00,189.50 L51.50,189.50 L52.00,189.50 L52.50,189.50 L53.00,189.50 L53.50,189.50 L54.00,189.50 L54.50,189.50 L55.00,189.50 L55.50,189.50 L56.00,189.50 L56.50,189.50 L57.00,189.50 L57.50,189.50 L58.00,189.50 L58.50,189.50 L59.00,189.50 L59.50,189.50 L60.00,189.50 L60.50,189.50 L61.00,189.50 L61.50,189.50 L62.00,189.50 L62.50,189.50 L63.00,189.50 L63.50,189.50 L64.00,189.50 L64.50,189.50 L65.00,189.50 L65.50,189.50 L66.00,189.50 L66.50,189.50 L67.00,189.50 L67.50,189.50 L68.00,189.50 L68.50,189.50 L69.00,189.50 L69.50,189.50 L70.00,189.50 L70.50,189.50 L71.00,189.50 L71.50,189.50 L72.00,189.50 L72.50,189.50 L73.00,189.50 L73.50,189.50 L74.00,189.50 L74.50,189.50 L75.00,189.50 L75.50,189.50 L76.00,189.50 L76.50,189.50 L77.00,189.50 L77.50,189.50 L78.00,189.50 L78.50,189.50 L79.00,189.50 L79.50,189.50 L80.00,189.50 L80.50,189.50 L81.00,189.50 L81.50,189.50 L82.00,189.50 L82.50,189.50 L83.00,189.50 L83.50,189.50 L84.00,189.50 L84.50,189.50 L85.00,189.50 L85.50,189.50 L86.00,189.50 L86.50,189.50 L87.00,189.50 L87.50,189.50 L88.00,189.50 L88.50,189.50 L89.00,189.50 L89.50,189.50 L90.00,189.50 L90.50,189.50 L91.00,189.50 L91.50,189.50 L92.00,189.50 L92.50,189.50 L93.00,189.50 L93.50,189.50 L94.00,189.50 L94.50,189.50 L95.00,189.50 L95.50,189.50 L96.00,189.50 L96.50,189.50 L97.00,189.50 L97.50,189.50 L98.00,189.50 L98.50,189.50 L99.00,189.50 L99.50,189.50 L100.00,189.50 L100.50,189.50 L101.00,189.50 L101.50,189.50 L102.00,189.50 L102.50,189.50 L103.00,189.50 L103.50,189.50 L104.00,189.50 L104.50,189.50 L105.00,189.50 L105.50,189.50 L106.00,189.50 L106.50,189.50 L107.00,189.50 L107.50,189.50 L108.00,189.50 L108.50,189.50 L109.00,189.50 L109.50,189.50 L110.00,189.50 L110.50,189.50 L111.00,189.50 L111.50,189.50 L112.00,189.50 L112.50,189.50 L113.00,189.50 L113.50,189.50 L114.00,189.50 L114.50,189.50 L115.00,189.50 L115.50,189.50 L116.00,189.50 L116.50,189.50 L117.00,189.50 L117.50,189.50 L118.00,189.50 L118.50,189.50 L119.00,189.50 L119.50,189.50 L120.00,189.50 L120.50,189.50 L121.00,189.50 L121.50,189.50 L122.00,189.50 L122.50,189.50 L123.00,189.49 L123.50,189.49 L124.00,189.49 L124.50,189.49 L125.00,189.49 L125.50,189.49 L126.00,189.49 L126.50,189.49 L127.00,189.48 L127.50,189.48 L128.00,189.48 L128.50,189.48 L129.00,189.47 L129.50,189.47 L130.00,189.47 L130.50,189.46 L131.00,189.46 L131.50,189.45 L132.00,189.45 L132.50,189.44 L133.00,189.43 L133.50,189.43 L134.00,189.42 L134.50,189.41 L135.00,189.40 L135.50,189.39 L136.00,189.37 L136.50,189.36 L137.00,189.34 L137.50,189.33 L138.00,189.31 L138.50,189.29 L139.00,189.27 L139.50,189.24 L140.00,189.22 L140.50,189.19 L141.00,189.16 L141.50,189.13 L142.00,189.09 L142.50,189.05 L143.00,189.01 L143.50,188.97 L144.00,188.92 L144.50,188.87 L145.00,188.82 L145.50,188.76 L146.00,188.70 L146.50,188.63 L147.00,188.56 L147.50,188.49 L148.00,188.41 L148.50,188.33 L149.00,188.24 L149.50,188.15 L150.00,188.05 L150.50,187.95 L151.00,187.84 L151.50,187.73 L152.00,187.61 L152.50,187.49 L153.00,187.36 L153.50,187.23 L154.00,187.09 L154.50,186.94 L155.00,186.79 L155.50,186.64 L156.00,186.48 L156.50,186.32 L157.00,186.15 L157.50,185.97 L158.00,185.80 L158.50,185.62 L159.00,185.43 L159.50,185.24 L160.00,185.05 L160.50,184.86 L161.00,184.66 L161.50,184.46 L162.00,184.26 L162.50,184.06 L163.00,183.86 L163.50,183.66 L164.00,183.46 L164.50,183.26 L165.00,183.06 L165.50,182.86 L166.00,182.67 L166.50,182.48 L167.00,182.29 L167.50,182.11 L168.00,181.94 L168.50,181.77 L169.00,181.60 L169.50,181.44 L170.00,181.29 L170.50,181.15 L171.00,181.02 L171.50,180.89 L172.00,180.77 L172.50,180.67 L173.00,180.57 L173.50,180.49 L174.00,180.41 L174.50,180.35 L175.00,180.29 L175.50,180.25 L176.00,180.22 L176.50,180.21 L177.00,180.20 L177.50,180.21 L178.00,180.22 L178.50,180.25 L179.00,180.29 L179.50,180.35 L180.00,180.41 L180.50,180.49 L181.00,180.57 L181.50,180.67 L182.00,180.77 L182.50,180.89 L183.00,181.02 L183.50,181.15 L184.00,181.29 L184.50,181.44 L185.00,181.60 L185.50,181.77 L186.00,181.94 L186.50,182.11 L187.00,182.29 L187.50,182.48 L188.00,182.67 L188.50,182.86 L189.00,183.06 L189.50,183.26 L190.00,183.46 L190.50,183.66 L191.00,183.86 L191.50,184.06 L192.00,184.26 L192.50,184.46 L193.00,184.66 L193.50,184.86 L194.00,185.05 L194.50,185.24 L195.00,185.43 L195.50,185.62 L196.00,185.80 L196.50,185.97 L197.00,186.15 L197.50,186.32 L198.00,186.48 L198.50,186.64 L199.00,186.79 L199.50,186.94 L200.00,187.09 L200.50,187.23 L201.00,187.36 L201.50,187.49 L202.00,187.61 L202.50,187.73 L203.00,187.84 L203.50,187.95 L204.00,188.05 L204.50,188.15 L205.00,188.24 L205.50,188.33 L206.00,188.41 L206.50,188.49 L207.00,188.56 L207.50,188.63 L208.00,188.70 L208.50,188.76 L209.00,188.82 L209.50,188.87 L210.00,188.92 L210.50,188.97 L211.00,189.01 L211.50,189.05 L212.00,189.09 L212.50,189.13 L213.00,189.16 L213.50,189.19 L214.00,189.22 L214.50,189.24 L215.00,189.27 L215.50,189.29 L216.00,189.31 L216.50,189.33 L217.00,189.34 L217.50,189.36 L218.00,189.37 L218.50,189.39 L219.00,189.40 L219.50,189.41 L220.00,189.42 L220.50,189.43 L221.00,189.43 L221.50,189.44 L222.00,189.45 L222.50,189.45 L223.00,189.46 L223.50,189.46 L224.00,189.47 L224.50,189.47 L225.00,189.47 L225.50,189.48 L226.00,189.48 L226.50,189.48 L227.00,189.48 L227.50,189.49 L228.00,189.49 L228.50,189.49 L229.00,189.49 L229.50,189.49 L230.00,189.49 L230.50,189.49 L231.00,189.49 L231.50,189.50 L232.00,189.50 L232.50,189.50 L233.00,189.50 L233.50,189.50" fill="none" stroke="#30a030" stroke-width="1.35"/>
<path d="M19.50,186.50 L20.97,186.36 L23.06,186.14 L25.00,185.80 L27.21,185.01 L29.20,184.00 L31.21,182.92 L33.00,181.50 L33.97,180.39 L34.79,179.06 L35.50,177.00 L35.81,175.62 L36.10,174.07 L36.35,172.34 L36.58,170.43 L36.80,168.31 L37.00,166.00 L37.11,164.66 L37.20,163.29 L37.29,161.87 L37.38,160.39 L37.46,158.85 L37.54,157.25 L37.61,155.58 L37.69,153.82 L37.76,151.98 L37.83,150.04 L37.90,148.00 L37.95,146.63 L37.99,145.22 L38.03,143.77 L38.07,142.29 L38.11,140.77 L38.15,139.22 L38.19,137.63 L38.23,136.01 L38.27,134.36 L38.31,132.67 L38.35,130.95 L38.39,129.20 L38.43,127.42 L38.47,125.61 L38.51,123.77 L38.55,121.90 L38.60,120.00 L38.64,118.57 L38.67,117.09 L38.71,115.58 L38.75,114.04 L38.79,112.46 L38.83,110.86 L38.87,109.24 L38.91,107.60 L38.95,105.94 L38.99,104.27 L39.03,102.59 L39.07,100.91 L39.11,99.22 L39.15,97.54 L39.19,95.85 L39.23,94.18 L39.27,92.52 L39.31,90.88 L39.35,89.25 L39.39,87.65 L39.43,86.07 L39.46,84.52 L39.50,83.00 L39.54,81.26 L39.58,79.49 L39.62,77.70 L39.66,75.90 L39.70,74.10 L39.73,72.29 L39.77,70.49 L39.81,68.71 L39.85,66.95 L39.88,65.22 L39.92,63.52 L39.95,61.87 L39.99,60.26 L40.02,58.72 L40.05,57.23 L40.08,55.82 L40.11,54.48 L40.14,53.23 L40.17,52.06 L40.20,51.00 L40.30,47.72 L40.37,45.67 L40.44,44.41 L40.51,43.50 L40.60,42.50 L40.82,39.78 L41.20,39.00 L41.54,39.80 L41.97,41.28 L42.44,43.37 L42.90,46.00 L43.08,47.21 L43.27,48.55 L43.46,49.99 L43.66,51.52 L43.85,53.14 L44.04,54.82 L44.24,56.56 L44.43,58.35 L44.62,60.17 L44.80,62.00 L44.93,63.44 L45.06,64.92 L45.18,66.43 L45.29,67.98 L45.40,69.56 L45.52,71.17 L45.63,72.80 L45.75,74.44 L45.88,76.10 L46.02,77.77 L46.16,79.45 L46.32,81.12 L46.50,82.80 L46.68,84.38 L46.87,86.02 L47.07,87.70 L47.29,89.42 L47.51,91.14 L47.74,92.88 L47.97,94.61 L48.20,96.32 L48.44,97.99 L48.68,99.63 L48.92,101.21 L49.15,102.72 L49.38,104.16 L49.60,105.50 L49.98,107.68 L50.37,109.71 L50.76,111.55 L51.14,113.23 L51.52,114.93 L51.89,116.31 L52.25,117.78 L52.60,118.91 L53.24,121.21 L53.83,122.90 L54.40,124.16 L55.00,125.13 L56.24,127.22 L57.60,127.73 L59.09,127.58 L61.00,126.42 L62.36,125.80 L63.96,123.70 L65.58,122.97 L67.00,121.60 L68.44,120.41 L69.67,118.60 L71.00,117.20 L72.17,116.22 L73.40,115.75 L74.68,114.86 L76.00,113.70 L77.87,112.42 L79.80,111.32 L81.60,111.33 L83.75,111.33 L86.00,111.39 L87.48,112.36 L89.12,114.11 L90.81,115.39 L92.40,116.11 L93.82,117.30 L95.16,118.71 L96.52,120.13 L98.00,121.10 L99.26,123.05 L100.56,124.02 L101.92,125.58 L103.39,126.38 L105.00,128.47 L106.30,129.26 L107.73,129.91 L109.23,131.60 L110.77,132.42 L112.27,133.58 L113.70,133.72 L115.00,134.56 L116.94,136.38 L118.62,136.80 L120.25,137.76 L122.00,138.16 L123.51,139.53 L125.05,139.51 L126.64,140.31 L128.28,140.17 L130.00,141.48 L131.29,141.93 L132.63,143.77 L134.01,144.46 L135.41,145.28 L136.82,146.52 L138.22,148.19 L139.60,148.88 L140.96,150.09 L142.32,151.46 L143.67,152.63 L145.03,153.82 L146.38,154.96 L147.74,155.80 L149.10,157.12 L150.47,157.73 L151.84,158.94 L153.21,160.55 L154.59,160.96 L155.96,162.06 L157.33,163.04 L158.70,164.18 L160.29,164.64 L161.87,165.49 L163.45,166.69 L165.03,167.12 L166.61,168.38 L168.20,169.30 L169.80,169.91 L171.40,170.85 L173.00,171.38 L174.60,171.89 L176.20,173.19 L177.80,174.07 L179.15,175.17 L180.49,175.65 L181.82,176.73 L183.16,178.23 L184.51,178.76 L185.89,179.83 L187.30,181.08 L188.77,181.57 L190.28,182.43 L191.82,183.59 L193.38,184.39 L194.92,185.20 L196.43,185.81 L197.90,186.49 L199.51,187.04 L201.03,187.48 L202.53,187.79 L204.04,188.03 L205.65,188.23 L207.40,188.40 L209.03,188.52 L210.75,188.59 L212.54,188.62 L214.37,188.62 L216.24,188.61 L218.13,188.60 L220.00,188.60 L221.74,188.61 L223.63,188.61 L225.59,188.61 L227.54,188.61 L229.39,188.61 L231.05,188.60 L232.45,188.60 L233.50,188.60" fill="none" stroke="#f7b800" stroke-width="1.8" stroke-linejoin="round"/>
<path d="M42.90,46.00 C43.22,48.67 44.20,55.87 44.80,62.00 C45.40,68.13 45.70,75.55 46.50,82.80 C47.30,90.05 48.58,99.47 49.60,105.50 C50.62,111.53 51.70,115.72 52.60,119.00 C53.50,122.28 54.17,123.70 55.00,125.20 C55.83,126.70 56.60,127.78 57.60,128.00 C58.60,128.22 59.43,127.62 61.00,126.50 C62.57,125.38 65.33,122.80 67.00,121.30 C68.67,119.80 69.50,118.80 71.00,117.50 C72.50,116.20 74.23,114.58 76.00,113.50 C77.77,112.42 79.93,111.28 81.60,111.00 C83.27,110.72 84.20,110.92 86.00,111.80 C87.80,112.68 90.40,114.68 92.40,116.30 C94.40,117.92 95.90,119.55 98.00,121.50 C100.10,123.45 102.17,125.75 105.00,128.00 C107.83,130.25 112.17,133.25 115.00,135.00 C117.83,136.75 119.50,137.42 122.00,138.50 C124.50,139.58 127.07,139.70 130.00,141.50 C132.93,143.30 136.42,146.72 139.60,149.30 C142.78,151.88 145.92,154.52 149.10,157.00 C152.28,159.48 155.52,162.20 158.70,164.20 C161.88,166.20 165.02,167.33 168.20,169.00 C171.38,170.67 174.62,172.23 177.80,174.20 C180.98,176.17 183.95,178.75 187.30,180.80 C190.65,182.85 194.55,185.23 197.90,186.50 C201.25,187.77 205.82,188.08 207.40,188.40" fill="none" stroke="#111" stroke-width="1.6" stroke-dasharray="9 3.5"/>
</g>
<line x1="78.2" y1="115" x2="78.2" y2="122.6" stroke="#000" stroke-width="1.5"/>
<line x1="129.2" y1="143.6" x2="129.2" y2="150.6" stroke="#000" stroke-width="1.5"/>
<rect x="17.6" y="37.5" width="217" height="154.6" fill="none" stroke="#111" stroke-width="1.4"/>
<line x1="27.22" y1="34.0" x2="27.22" y2="37.5" stroke="#222" stroke-width="1"/>
<line x1="41.40" y1="31.5" x2="41.40" y2="37.5" stroke="#222" stroke-width="1"/>
<line x1="55.58" y1="34.0" x2="55.58" y2="37.5" stroke="#222" stroke-width="1"/>
<line x1="69.75" y1="31.5" x2="69.75" y2="37.5" stroke="#222" stroke-width="1"/>
<line x1="83.93" y1="34.0" x2="83.93" y2="37.5" stroke="#222" stroke-width="1"/>
<line x1="98.10" y1="31.5" x2="98.10" y2="37.5" stroke="#222" stroke-width="1"/>
<line x1="112.28" y1="34.0" x2="112.28" y2="37.5" stroke="#222" stroke-width="1"/>
<line x1="126.45" y1="31.5" x2="126.45" y2="37.5" stroke="#222" stroke-width="1"/>
<line x1="140.62" y1="34.0" x2="140.62" y2="37.5" stroke="#222" stroke-width="1"/>
<line x1="154.80" y1="31.5" x2="154.80" y2="37.5" stroke="#222" stroke-width="1"/>
<line x1="168.97" y1="34.0" x2="168.97" y2="37.5" stroke="#222" stroke-width="1"/>
<line x1="183.15" y1="31.5" x2="183.15" y2="37.5" stroke="#222" stroke-width="1"/>
<line x1="197.33" y1="34.0" x2="197.33" y2="37.5" stroke="#222" stroke-width="1"/>
<line x1="211.50" y1="31.5" x2="211.50" y2="37.5" stroke="#222" stroke-width="1"/>
<line x1="225.68" y1="34.0" x2="225.68" y2="37.5" stroke="#222" stroke-width="1"/>
<text x="41.40" y="27.5" font-size="12.5" text-anchor="middle">2.8</text>
<text x="69.75" y="27.5" font-size="12.5" text-anchor="middle">3.2</text>
<text x="98.10" y="27.5" font-size="12.5" text-anchor="middle">3.6</text>
<text x="126.45" y="27.5" font-size="12.5" text-anchor="middle">4.0</text>
<text x="154.80" y="27.5" font-size="12.5" text-anchor="middle">4.4</text>
<text x="183.15" y="27.5" font-size="12.5" text-anchor="middle">4.8</text>
<text x="211.50" y="27.5" font-size="12.5" text-anchor="middle">5.2</text>
<line x1="21.30" y1="192" x2="21.30" y2="198.3" stroke="#222" stroke-width="1"/>
<line x1="35.48" y1="192" x2="35.48" y2="196.8" stroke="#222" stroke-width="1"/>
<line x1="49.65" y1="192" x2="49.65" y2="198.3" stroke="#222" stroke-width="1"/>
<line x1="63.83" y1="192" x2="63.83" y2="196.8" stroke="#222" stroke-width="1"/>
<line x1="78.00" y1="192" x2="78.00" y2="198.3" stroke="#222" stroke-width="1"/>
<line x1="92.17" y1="192" x2="92.17" y2="196.8" stroke="#222" stroke-width="1"/>
<line x1="106.35" y1="192" x2="106.35" y2="198.3" stroke="#222" stroke-width="1"/>
<line x1="120.53" y1="192" x2="120.53" y2="196.8" stroke="#222" stroke-width="1"/>
<line x1="134.70" y1="192" x2="134.70" y2="198.3" stroke="#222" stroke-width="1"/>
<line x1="148.88" y1="192" x2="148.88" y2="196.8" stroke="#222" stroke-width="1"/>
<line x1="163.05" y1="192" x2="163.05" y2="198.3" stroke="#222" stroke-width="1"/>
<line x1="177.23" y1="192" x2="177.23" y2="196.8" stroke="#222" stroke-width="1"/>
<line x1="191.40" y1="192" x2="191.40" y2="198.3" stroke="#222" stroke-width="1"/>
<line x1="205.58" y1="192" x2="205.58" y2="196.8" stroke="#222" stroke-width="1"/>
<line x1="219.75" y1="192" x2="219.75" y2="198.3" stroke="#222" stroke-width="1"/>
<line x1="233.93" y1="192" x2="233.93" y2="196.8" stroke="#222" stroke-width="1"/>
<text x="21.30" y="209.5" font-size="12.5" text-anchor="middle">0.0</text>
<text x="49.65" y="209.5" font-size="12.5" text-anchor="middle">0.4</text>
<text x="78.00" y="209.5" font-size="12.5" text-anchor="middle">0.8</text>
<text x="106.35" y="209.5" font-size="12.5" text-anchor="middle">1.2</text>
<text x="134.70" y="209.5" font-size="12.5" text-anchor="middle">1.6</text>
<text x="163.05" y="209.5" font-size="12.5" text-anchor="middle">2.0</text>
<text x="191.40" y="209.5" font-size="12.5" text-anchor="middle">2.4</text>
<text x="219.75" y="209.5" font-size="12.5" text-anchor="middle">2.8</text>
<text x="91" y="13" font-size="12.5"><tspan font-style="italic">E</tspan><tspan font-size="9" dy="3">fin</tspan><tspan dy="-3"> - </tspan><tspan font-style="italic">E</tspan><tspan font-size="9" dy="3" font-weight="bold">F</tspan><tspan dy="-3"> (eV)</tspan></text>
<text x="90" y="225" font-size="12.5"><tspan font-style="italic">E</tspan><tspan font-size="9" dy="3">int</tspan><tspan dy="-3"> - </tspan><tspan font-style="italic">E</tspan><tspan font-size="9" dy="3" font-weight="bold">F</tspan><tspan dy="-3"> (eV)</tspan></text>
<text transform="translate(12,172) rotate(-90)" font-size="12.5">PES Intensity (arb. u.)</text>
<text x="8.6" y="194.2" font-size="12.5" text-anchor="middle">0</text>
<text x="20" y="54.5" font-size="17">(a)</text>
<line x1="125" y1="47" x2="152" y2="47" stroke="#f7b800" stroke-width="2"/>
<line x1="126.3" y1="62.5" x2="151.5" y2="62.5" stroke="#111" stroke-width="1.6" stroke-dasharray="8 3.4"/>
<line x1="125" y1="77.8" x2="152" y2="77.8" stroke="#000" stroke-width="2.2"/>
<text x="160.3" y="51.3" font-size="12.5">11 nm 5P-Py</text>
<text x="160.3" y="66.5" font-size="12.5">fit</text>
<text x="160.3" y="81" font-size="12.5">3 nm 5P-Py</text>
<text x="66.8" y="140.4" font-size="12.6">3.3 eV</text>
<text x="80.6" y="158.3" font-size="12.5" text-anchor="middle">A</text>
<text x="114" y="165.8" font-size="12.4">4.0 eV</text>
<text x="132" y="183" font-size="12.5" text-anchor="middle">B</text>
<text x="177" y="190" font-size="12.5" text-anchor="middle">C</text>
<rect x="18" y="232" width="217" height="148.2" fill="none" stroke="#333" stroke-width="1.45"/>
<rect x="60.4" y="338.6" width="170.2" height="23.2" fill="#b4b4b4"/>
<line x1="60.4" y1="338.8" x2="230.5" y2="338.8" stroke="#111" stroke-width="1.1" stroke-dasharray="1.5 2.3"/>
<line x1="59.5" y1="271.3" x2="230.5" y2="271.3" stroke="#000" stroke-width="1.4" stroke-dasharray="1.6 3.25"/>
<line x1="92.2" y1="246.8" x2="119.4" y2="246.8" stroke="#000" stroke-width="1.4" stroke-dasharray="1.6 3.25"/>
<line x1="92.2" y1="258.8" x2="119.4" y2="258.8" stroke="#000" stroke-width="1.4" stroke-dasharray="1.6 3.25"/>
<line x1="60.4" y1="246" x2="60.4" y2="361.8" stroke="#555" stroke-width="1.5"/>
<path d="M60.4,242.5 L57.9,247.5 L62.9,247.5 Z" fill="#111"/>
<line x1="150" y1="243" x2="150" y2="361.8" stroke="#444" stroke-width="1.5"/>
<line x1="85.2" y1="301.5" x2="129.1" y2="301.5" stroke="#000" stroke-width="2"/>
<line x1="166.6" y1="252.3" x2="210.5" y2="252.3" stroke="#000" stroke-width="2"/>
<line x1="93.7" y1="345.7" x2="93.7" y2="307.6" stroke="#18a030" stroke-width="1.25"/><line x1="93.7" y1="304.6" x2="93.7" y2="262.0" stroke="#50b860" stroke-width="1.2"/><path d="M93.7,259.0 L91.0,268.0 L96.4,268.0 Z" fill="#18a030"/><path d="M93.7,303.6 L91.0,312.6 L96.4,312.6 Z" fill="#18a030"/>
<line x1="119.5" y1="356.2" x2="119.5" y2="307.6" stroke="#1e90d6" stroke-width="1.25"/><line x1="119.5" y1="304.6" x2="119.5" y2="251.2" stroke="#3a9ede" stroke-width="1.2"/><path d="M119.5,248.2 L116.8,257.2 L122.2,257.2 Z" fill="#1e90d6"/><path d="M119.5,303.6 L116.8,312.6 L122.2,312.6 Z" fill="#1e90d6"/>
<line x1="178.7" y1="338.8" x2="178.7" y2="300.7" stroke="#18a030" stroke-width="1.25"/><line x1="178.7" y1="297.7" x2="178.7" y2="256.8" stroke="#70c478" stroke-width="1.2"/><path d="M178.7,253.8 L176.0,262.8 L181.4,262.8 Z" fill="#18a030"/><path d="M178.7,296.7 L176.0,305.7 L181.4,305.7 Z" fill="#18a030"/>
<line x1="206.1" y1="361.2" x2="206.1" y2="310.6" stroke="#1e90d6" stroke-width="1.25"/><line x1="206.1" y1="307.6" x2="206.1" y2="256.8" stroke="#3a9ede" stroke-width="1.2"/><path d="M206.1,253.8 L203.4,262.8 L208.8,262.8 Z" fill="#1e90d6"/><path d="M206.1,306.6 L203.4,315.6 L208.8,315.6 Z" fill="#1e90d6"/>
<text x="20.8" y="248.2" font-size="17">(b)</text>
<text x="48" y="243.8" font-size="12" font-style="italic">E</text>
<text x="40" y="260.5" font-size="11"><tspan font-style="italic">E</tspan><tspan font-size="7.5" dy="2.5">fin</tspan></text>
<text x="40.5" y="304.4" font-size="11"><tspan font-style="italic">E</tspan><tspan font-size="7.5" dy="2.5">int</tspan></text>
<text x="40" y="338.3" font-size="11"><tspan font-style="italic">E</tspan><tspan font-size="7.5" dy="2.5">F</tspan></text>
<text x="75.7" y="256.8" font-size="11">Δhν</text>
<text x="95.5" y="292" font-size="11">hν<tspan font-size="8.5" font-weight="bold" dy="2.3" dx="-0.2">1</tspan></text>
<text x="123.5" y="292" font-size="11">hν<tspan font-size="8.5" dy="2.3">2</tspan></text>
<text x="60.4" y="377.2" font-size="11">intermediate state</text>
<text x="163.7" y="377.5" font-size="11">final state</text>
<rect x="243.9" y="37.4" width="106.4" height="342.8" fill="none" stroke="#555" stroke-width="1.3"/>
<line x1="243.3" y1="37.4" x2="351" y2="37.4" stroke="#111" stroke-width="1.3"/>
<line x1="243.3" y1="380.2" x2="351" y2="380.2" stroke="#111" stroke-width="1.3"/>
<line x1="254.30" y1="34.3" x2="254.30" y2="37.5" stroke="#222" stroke-width="1"/>
<line x1="254.30" y1="380" x2="254.30" y2="383.0" stroke="#222" stroke-width="1"/>
<line x1="268.10" y1="32.0" x2="268.10" y2="37.5" stroke="#222" stroke-width="1"/>
<line x1="268.10" y1="380" x2="268.10" y2="385.5" stroke="#222" stroke-width="1"/>
<line x1="281.90" y1="34.3" x2="281.90" y2="37.5" stroke="#222" stroke-width="1"/>
<line x1="281.90" y1="380" x2="281.90" y2="383.0" stroke="#222" stroke-width="1"/>
<line x1="295.70" y1="32.0" x2="295.70" y2="37.5" stroke="#222" stroke-width="1"/>
<line x1="295.70" y1="380" x2="295.70" y2="385.5" stroke="#222" stroke-width="1"/>
<line x1="309.50" y1="34.3" x2="309.50" y2="37.5" stroke="#222" stroke-width="1"/>
<line x1="309.50" y1="380" x2="309.50" y2="383.0" stroke="#222" stroke-width="1"/>
<line x1="323.30" y1="32.0" x2="323.30" y2="37.5" stroke="#222" stroke-width="1"/>
<line x1="323.30" y1="380" x2="323.30" y2="385.5" stroke="#222" stroke-width="1"/>
<line x1="337.10" y1="34.3" x2="337.10" y2="37.5" stroke="#222" stroke-width="1"/>
<line x1="337.10" y1="380" x2="337.10" y2="383.0" stroke="#222" stroke-width="1"/>
<text x="268.10" y="27.5" font-size="12.5" text-anchor="middle">2.4</text>
<text x="268.10" y="396.7" font-size="12.5" text-anchor="middle">2.4</text>
<text x="295.70" y="27.5" font-size="12.5" text-anchor="middle">2.5</text>
<text x="295.70" y="396.7" font-size="12.5" text-anchor="middle">2.5</text>
<text x="323.30" y="27.5" font-size="12.5" text-anchor="middle">2.6</text>
<text x="323.30" y="396.7" font-size="12.5" text-anchor="middle">2.6</text>
<line x1="350.5" y1="40.40" x2="355" y2="40.40" stroke="#222" stroke-width="1"/>
<text x="361.0" y="44.80" font-size="12.5">4.8</text>
<line x1="350.5" y1="82.65" x2="355" y2="82.65" stroke="#222" stroke-width="1"/>
<text x="361.0" y="87.05" font-size="12.5">4.6</text>
<line x1="350.5" y1="124.90" x2="355" y2="124.90" stroke="#222" stroke-width="1"/>
<text x="361.0" y="129.30" font-size="12.5">4.4</text>
<line x1="350.5" y1="167.15" x2="355" y2="167.15" stroke="#222" stroke-width="1"/>
<text x="361.0" y="171.55" font-size="12.5">4.2</text>
<line x1="350.5" y1="209.40" x2="355" y2="209.40" stroke="#222" stroke-width="1"/>
<text x="361.0" y="213.80" font-size="12.5">4.0</text>
<line x1="350.5" y1="251.65" x2="355" y2="251.65" stroke="#222" stroke-width="1"/>
<text x="361.0" y="256.05" font-size="12.5">3.8</text>
<line x1="350.5" y1="293.90" x2="355" y2="293.90" stroke="#222" stroke-width="1"/>
<text x="361.0" y="298.30" font-size="12.5">3.6</text>
<line x1="350.5" y1="336.15" x2="355" y2="336.15" stroke="#222" stroke-width="1"/>
<text x="361.0" y="340.55" font-size="12.5">3.4</text>
<line x1="350.5" y1="378.40" x2="355" y2="378.40" stroke="#222" stroke-width="1"/>
<text x="359.3" y="382.80" font-size="12.5">3.2</text>
<text x="241.8" y="412.8" font-size="12.5">photon energy (eV)</text>
<text transform="translate(389.6,133.6) rotate(90)" font-size="12.5">final state energy <tspan font-style="italic" dx="1.5">E</tspan><tspan font-size="9" dy="3">fin</tspan><tspan dy="-3">-</tspan><tspan font-style="italic">E</tspan><tspan font-size="9" dy="3" font-weight="bold">F</tspan><tspan dy="-3"> (eV)</tspan></text>
<text x="246.3" y="55" font-size="17">(c)</text>
<text x="275" y="75.8" font-size="12.5" text-anchor="middle">C</text>
<text x="274.6" y="177.3" font-size="12.5" text-anchor="middle">B</text>
<text x="274.8" y="329.7" font-size="12.5" text-anchor="middle">A</text>
<line x1="249.8" y1="117.6" x2="341.8" y2="46.3" stroke="#111" stroke-width="1.6" stroke-dasharray="7.4 6.1"/>
<line x1="249.7" y1="113.0" x2="249.7" y2="134.5" stroke="#48b848" stroke-width="1"/><line x1="247.5" y1="113.0" x2="251.9" y2="113.0" stroke="#48b848" stroke-width="1"/><line x1="247.5" y1="134.5" x2="251.9" y2="134.5" stroke="#48b848" stroke-width="1"/><rect x="247.70" y="121.50" width="4.0" height="4.0" fill="#0a900a" stroke="#1a1a1a" stroke-width="0.9"/>
<line x1="277.0" y1="83.5" x2="277.0" y2="103.9" stroke="#48b848" stroke-width="1"/><line x1="274.8" y1="83.5" x2="279.2" y2="83.5" stroke="#48b848" stroke-width="1"/><line x1="274.8" y1="103.9" x2="279.2" y2="103.9" stroke="#48b848" stroke-width="1"/><rect x="275.00" y="91.80" width="4.0" height="4.0" fill="#0a900a" stroke="#1a1a1a" stroke-width="0.9"/>
<line x1="299.8" y1="52.5" x2="299.8" y2="72.5" stroke="#48b848" stroke-width="1"/><line x1="297.6" y1="52.5" x2="302.0" y2="52.5" stroke="#48b848" stroke-width="1"/><line x1="297.6" y1="72.5" x2="302.0" y2="72.5" stroke="#48b848" stroke-width="1"/><rect x="297.80" y="60.60" width="4.0" height="4.0" fill="#0a900a" stroke="#1a1a1a" stroke-width="0.9"/>
<line x1="298.5" y1="64.5" x2="298.5" y2="85.1" stroke="#48b848" stroke-width="1"/><line x1="296.3" y1="64.5" x2="300.7" y2="64.5" stroke="#48b848" stroke-width="1"/><line x1="296.3" y1="85.1" x2="300.7" y2="85.1" stroke="#48b848" stroke-width="1"/><rect x="296.50" y="72.60" width="4.0" height="4.0" fill="#0a900a" stroke="#1a1a1a" stroke-width="0.9"/>
<line x1="324.6" y1="60.9" x2="324.6" y2="82.2" stroke="#48b848" stroke-width="1"/><line x1="322.4" y1="60.9" x2="326.8" y2="60.9" stroke="#48b848" stroke-width="1"/><line x1="322.4" y1="82.2" x2="326.8" y2="82.2" stroke="#48b848" stroke-width="1"/><rect x="322.60" y="69.30" width="4.0" height="4.0" fill="#0a900a" stroke="#1a1a1a" stroke-width="0.9"/>
<line x1="344.6" y1="52.6" x2="344.6" y2="106.6" stroke="#48b848" stroke-width="1"/><line x1="342.4" y1="52.6" x2="346.8" y2="52.6" stroke="#48b848" stroke-width="1"/><line x1="342.4" y1="106.6" x2="346.8" y2="106.6" stroke="#48b848" stroke-width="1"/><rect x="342.60" y="77.30" width="4.0" height="4.0" fill="#0a900a" stroke="#1a1a1a" stroke-width="0.9"/>
<line x1="250.0" y1="189.8" x2="250.0" y2="211.1" stroke="#2f62ee" stroke-width="1"/><line x1="247.8" y1="189.8" x2="252.2" y2="189.8" stroke="#2f62ee" stroke-width="1"/><line x1="247.8" y1="211.1" x2="252.2" y2="211.1" stroke="#2f62ee" stroke-width="1"/><rect x="248.00" y="198.70" width="4.0" height="4.0" fill="#0a40f0" stroke="#1a1a1a" stroke-width="0.9"/>
<line x1="277.2" y1="185.1" x2="277.2" y2="206.4" stroke="#2f62ee" stroke-width="1"/><line x1="275.0" y1="185.1" x2="279.4" y2="185.1" stroke="#2f62ee" stroke-width="1"/><line x1="275.0" y1="206.4" x2="279.4" y2="206.4" stroke="#2f62ee" stroke-width="1"/><rect x="275.20" y="194.00" width="4.0" height="4.0" fill="#0a40f0" stroke="#1a1a1a" stroke-width="0.9"/>
<line x1="298.7" y1="171.2" x2="298.7" y2="190.7" stroke="#2f62ee" stroke-width="1"/><line x1="296.5" y1="171.2" x2="300.9" y2="171.2" stroke="#2f62ee" stroke-width="1"/><line x1="296.5" y1="190.7" x2="300.9" y2="190.7" stroke="#2f62ee" stroke-width="1"/><rect x="296.70" y="180.30" width="4.0" height="4.0" fill="#0a40f0" stroke="#1a1a1a" stroke-width="0.9"/>
<line x1="300.1" y1="192.3" x2="300.1" y2="211.1" stroke="#2f62ee" stroke-width="1"/><line x1="297.9" y1="192.3" x2="302.3" y2="192.3" stroke="#2f62ee" stroke-width="1"/><line x1="297.9" y1="211.1" x2="302.3" y2="211.1" stroke="#2f62ee" stroke-width="1"/><rect x="298.10" y="198.70" width="4.0" height="4.0" fill="#0a40f0" stroke="#1a1a1a" stroke-width="0.9"/>
<line x1="324.4" y1="196.4" x2="324.4" y2="218.2" stroke="#2f62ee" stroke-width="1"/><line x1="322.2" y1="196.4" x2="326.6" y2="196.4" stroke="#2f62ee" stroke-width="1"/><line x1="322.2" y1="218.2" x2="326.6" y2="218.2" stroke="#2f62ee" stroke-width="1"/><rect x="322.40" y="205.40" width="4.0" height="4.0" fill="#0a40f0" stroke="#1a1a1a" stroke-width="0.9"/>
<line x1="344.5" y1="198.5" x2="344.5" y2="229.2" stroke="#2f62ee" stroke-width="1"/><line x1="342.3" y1="198.5" x2="346.7" y2="198.5" stroke="#2f62ee" stroke-width="1"/><line x1="342.3" y1="229.2" x2="346.7" y2="229.2" stroke="#2f62ee" stroke-width="1"/><rect x="342.50" y="212.50" width="4.0" height="4.0" fill="#0a40f0" stroke="#1a1a1a" stroke-width="0.9"/>
<line x1="250.0" y1="336.4" x2="250.0" y2="358.2" stroke="#e06ab4" stroke-width="1"/><line x1="247.8" y1="336.4" x2="252.2" y2="336.4" stroke="#e06ab4" stroke-width="1"/><line x1="247.8" y1="358.2" x2="252.2" y2="358.2" stroke="#e06ab4" stroke-width="1"/><rect x="248.00" y="344.90" width="4.0" height="4.0" fill="#d8489c" stroke="#1a1a1a" stroke-width="0.9"/>
<line x1="277.2" y1="336.0" x2="277.2" y2="357.3" stroke="#e06ab4" stroke-width="1"/><line x1="275.0" y1="336.0" x2="279.4" y2="336.0" stroke="#e06ab4" stroke-width="1"/><line x1="275.0" y1="357.3" x2="279.4" y2="357.3" stroke="#e06ab4" stroke-width="1"/><rect x="275.20" y="344.10" width="4.0" height="4.0" fill="#d8489c" stroke="#1a1a1a" stroke-width="0.9"/>
<line x1="298.7" y1="327.7" x2="298.7" y2="348.6" stroke="#e06ab4" stroke-width="1"/><line x1="296.5" y1="327.7" x2="300.9" y2="327.7" stroke="#e06ab4" stroke-width="1"/><line x1="296.5" y1="348.6" x2="300.9" y2="348.6" stroke="#e06ab4" stroke-width="1"/><rect x="296.70" y="336.20" width="4.0" height="4.0" fill="#d8489c" stroke="#1a1a1a" stroke-width="0.9"/>
<line x1="300.1" y1="341.0" x2="300.1" y2="362.8" stroke="#e06ab4" stroke-width="1"/><line x1="297.9" y1="341.0" x2="302.3" y2="341.0" stroke="#e06ab4" stroke-width="1"/><line x1="297.9" y1="362.8" x2="302.3" y2="362.8" stroke="#e06ab4" stroke-width="1"/><rect x="298.10" y="349.60" width="4.0" height="4.0" fill="#d8489c" stroke="#1a1a1a" stroke-width="0.9"/>
<line x1="324.4" y1="343.2" x2="324.4" y2="364.0" stroke="#e06ab4" stroke-width="1"/><line x1="322.2" y1="343.2" x2="326.6" y2="343.2" stroke="#e06ab4" stroke-width="1"/><line x1="322.2" y1="364.0" x2="326.6" y2="364.0" stroke="#e06ab4" stroke-width="1"/><rect x="322.40" y="352.00" width="4.0" height="4.0" fill="#d8489c" stroke="#1a1a1a" stroke-width="0.9"/>
<line x1="344.5" y1="347.3" x2="344.5" y2="368.4" stroke="#e06ab4" stroke-width="1"/><line x1="342.3" y1="347.3" x2="346.7" y2="347.3" stroke="#e06ab4" stroke-width="1"/><line x1="342.3" y1="368.4" x2="346.7" y2="368.4" stroke="#e06ab4" stroke-width="1"/><rect x="342.50" y="355.30" width="4.0" height="4.0" fill="#d8489c" stroke="#1a1a1a" stroke-width="0.9"/></svg>
</body></html>
